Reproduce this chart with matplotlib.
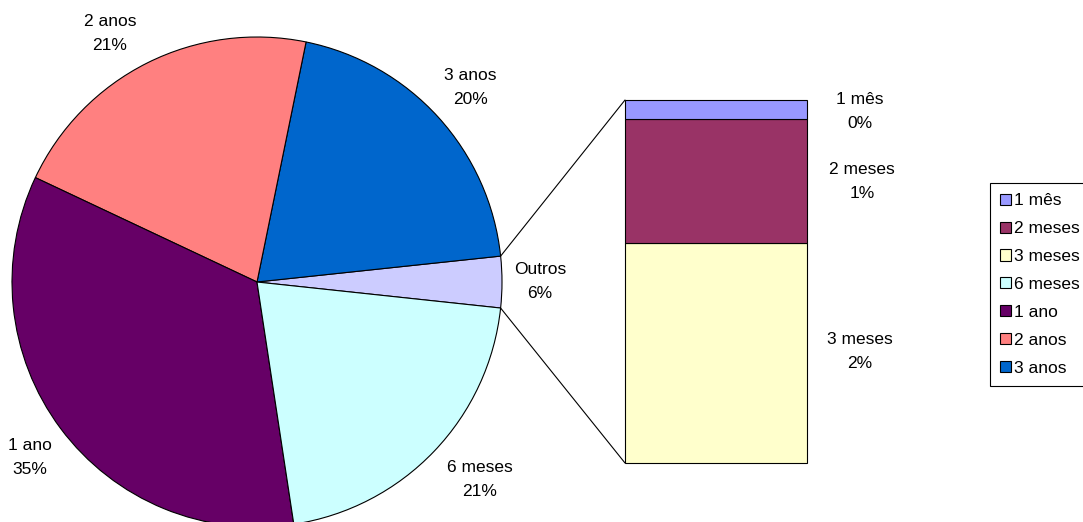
import matplotlib.pyplot as plt
from matplotlib.patches import Patch, ConnectionPatch
import numpy as np

plt.rcParams['font.family'] = ['Liberation Sans', 'DejaVu Sans']

# pie slices (percent)
big_names = ['3 anos', '2 anos', '1 ano', '6 meses']
big_vals = [20.1, 21.2, 34.4, 20.9]
big_colors = ['#0066CC', '#FF8080', '#660066', '#CCFFFF']
big_labels = ['3 anos\n20%', '2 anos\n21%', '1 ano\n35%', '6 meses\n21%']

# split-off slices shown in the bar
small_names = ['3 meses', '2 meses', '1 mês']
small_vals = [2.05, 1.15, 0.18]
small_colors = ['#FFFFCC', '#993366', '#9999FF']
small_labels = ['3 meses\n2%', '2 meses\n1%', '1 mês\n0%']
outros_label = 'Outros\n6%'

legend_names = ['1 mês', '2 meses', '3 meses', '6 meses', '1 ano', '2 anos', '3 anos']
legend_colors = ['#9999FF', '#993366', '#FFFFCC', '#CCFFFF', '#660066', '#FF8080', '#0066CC']

W, H = 1083, 522
fig = plt.figure(figsize=(W / 100, H / 100), dpi=100)
ax = fig.add_axes([0, 0, 1, 1])

outros = sum(small_vals)
vals = [outros] + big_vals
cols = ['#CCCCFF'] + big_colors
ang0 = -6.1
wedges, _ = ax.pie(vals, colors=cols, startangle=ang0, counterclock=True,
                   center=(257, 240), radius=245, frame=True,
                   wedgeprops=dict(edgecolor='black', linewidth=0.8))
ax.set_xlim(0, W)
ax.set_ylim(0, H)
ax.set_aspect('equal')
ax.axis('off')

fs = 12.5
ls = 1.75
lab_pos = [(470, 435), (110, 489), (30, 65), (480, 42)]
for (x, y), t in zip(lab_pos, big_labels):
    ax.text(x, y, t, ha='center', va='center', fontsize=fs, linespacing=ls)
ax.text(540, 240, outros_label, ha='center', va='center', fontsize=fs, linespacing=ls)

# bar of the split slices
bx = fig.add_axes([625 / W, 59 / H, 182 / W, 363 / H])
bottom = 0
for v, c in zip(small_vals, small_colors):
    bx.bar(0, v, width=1, bottom=bottom, color=c, edgecolor='black',
           linewidth=0.8, clip_on=False)
    bottom += v
bx.set_xlim(-0.5, 0.5)
bx.set_ylim(0, outros)
bx.axis('off')

blab_pos = [(860, 170), (862, 340), (860, 410)]
for (x, y), t in zip(blab_pos, small_labels):
    ax.text(x, y, t, ha='center', va='center', fontsize=fs, linespacing=ls)

# connector lines
w = wedges[0]
for th, yb in [(w.theta2, outros), (w.theta1, 0)]:
    px = w.center[0] + w.r * np.cos(np.radians(th))
    py = w.center[1] + w.r * np.sin(np.radians(th))
    con = ConnectionPatch(xyA=(px, py), coordsA=ax.transData,
                          xyB=(-0.5, yb), coordsB=bx.transData,
                          color='black', linewidth=0.8)
    fig.add_artist(con)

handles = [Patch(facecolor=c, edgecolor='black', linewidth=0.8) for c in legend_colors]
leg = fig.legend(handles, legend_names, loc='upper left',
                 bbox_to_anchor=(990 / W, 1 - 183 / H), fontsize=fs,
                 handlelength=0.6, handleheight=0.6, handletextpad=0.2,
                 labelspacing=0.74, borderpad=0.6, borderaxespad=0,
                 fancybox=False, edgecolor='black', framealpha=1)
leg.get_frame().set_linewidth(0.8)

fig.savefig('out.png', dpi=100)
